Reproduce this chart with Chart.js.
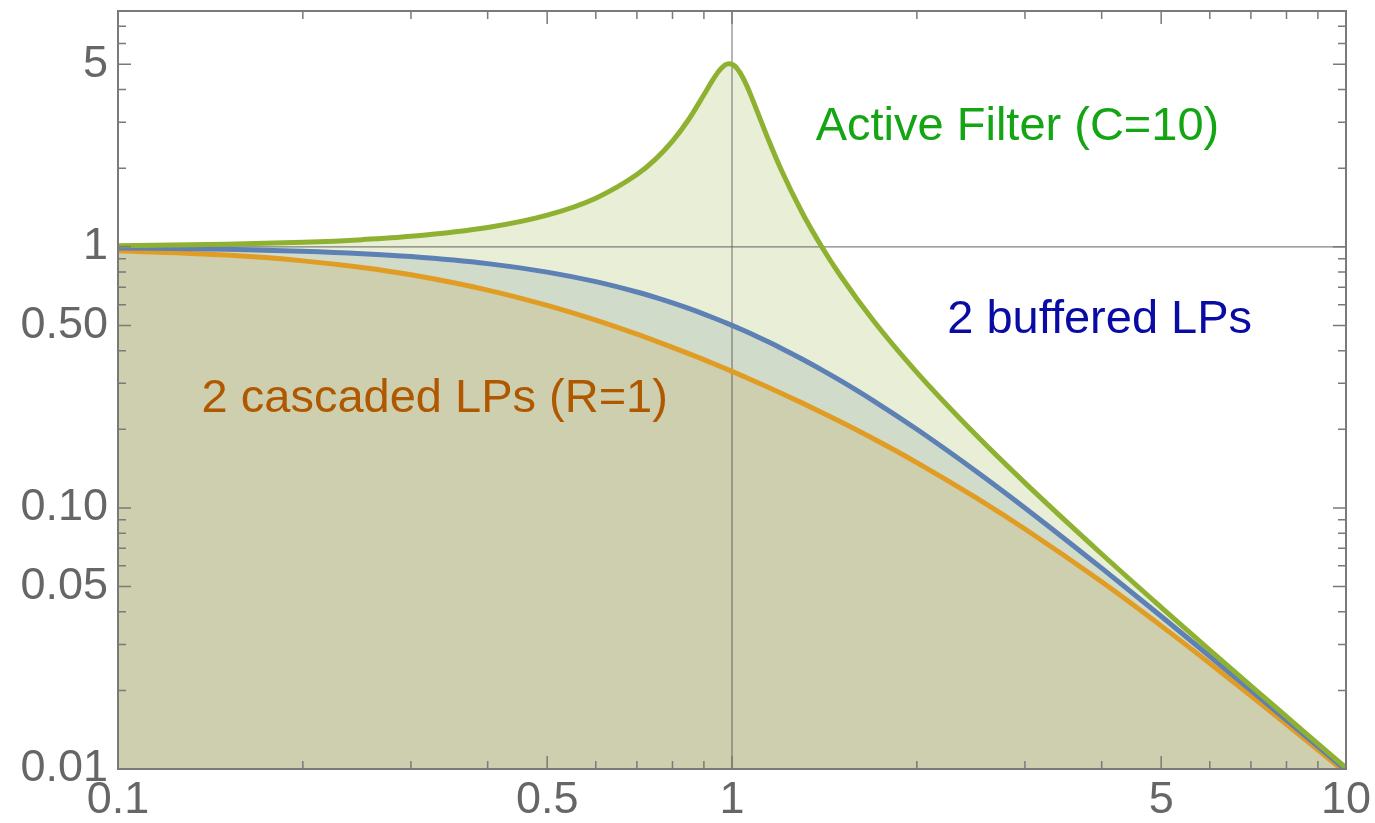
<!DOCTYPE html>
<html>
<head>
<meta charset="utf-8">
<script src="https://cdn.jsdelivr.net/npm/chart.js@4.4.1/dist/chart.umd.min.js"></script>
<style>
  html, body { margin: 0; padding: 0; background: #ffffff; }
  #wrap { width: 1375px; height: 823px; }
</style>
</head>
<body>
<div id="wrap"><canvas id="c" width="1375" height="823"></canvas></div>
<script>
// ---- data ----
const freq = [0.1, 0.15, 0.2, 0.25, 0.3, 0.4, 0.5, 0.6, 0.7, 0.75, 0.8, 0.85, 0.9, 0.93, 0.95, 0.97, 0.98, 0.99, 1, 1.01, 1.02, 1.03, 1.05, 1.07, 1.1, 1.15, 1.2, 1.3, 1.4, 1.5, 1.7, 2, 2.5, 3, 4, 5, 6, 7, 8, 10];
const activeFilter = [1.0099, 1.0225, 1.0408, 1.0652, 1.0965, 1.1851, 1.3216, 1.5357, 1.8908, 2.1622, 2.5384, 3.0728, 3.8208, 4.3500, 4.6825, 4.9309, 5.001, 5.0252, 5.0, 4.9261, 4.8086, 4.6552, 4.2792, 3.8694, 3.2880, 2.5245, 1.9952, 1.3562, 1.0, 0.7779, 0.5207, 0.3304, 0.1896, 0.1247, 0.0666, 0.04163, 0.02855, 0.02082, 0.01587, 0.010099];
const bufferedLPs = [0.990, 0.978, 0.9615, 0.9412, 0.9174, 0.8621, 0.8, 0.7353, 0.6711, 0.64, 0.6098, 0.5806, 0.5525, 0.5362, 0.5256, 0.5152, 0.5101, 0.5050, 0.5, 0.4950, 0.4901, 0.4852, 0.4756, 0.4662, 0.4525, 0.4306, 0.4098, 0.3717, 0.3378, 0.3077, 0.2571, 0.2, 0.1379, 0.1, 0.0588, 0.03846, 0.02703, 0.02, 0.01538, 0.0099];
const cascadedLPs = [0.9667, 0.9293, 0.8833, 0.8329, 0.7813, 0.6827, 0.5963, 0.5235, 0.4627, 0.4363, 0.4121, 0.3899, 0.3695, 0.3580, 0.3507, 0.3436, 0.3401, 0.3367, 0.3333, 0.3300, 0.3268, 0.3236, 0.3173, 0.3112, 0.3024, 0.2886, 0.2757, 0.2525, 0.2321, 0.2141, 0.1839, 0.1491, 0.1092, 0.0830, 0.0521, 0.03533, 0.02541, 0.01909, 0.01483, 0.009667];

const xTickValues = [0.1, 0.5, 1, 5, 10];
const xTickLabels = ['0.1', '0.5', '1', '5', '10'];
const xMinorTicks = [0.2, 0.3, 0.4, 0.6, 0.7, 0.8, 0.9, 2, 3, 4, 6, 7, 8, 9];
const yTickValues = [0.01, 0.05, 0.1, 0.5, 1, 5];
const yTickLabels = ['0.01', '0.05', '0.10', '0.50', '1', '5'];
const yMinorTicks = [0.02, 0.03, 0.04, 0.06, 0.07, 0.08, 0.09, 0.2, 0.3, 0.4, 0.6, 0.7, 0.8, 0.9, 2, 3, 4, 6, 7, 8];
const refLinesX = [1];
const refLinesY = [1];

const seriesNames = ['Active Filter (C=10)', '2 buffered LPs', '2 cascaded LPs (R=1)'];
// label anchor positions in data coordinates (x center, y baseline)
const labelX = [2.917, 3.97, 0.328];
const labelY = [2.565, 0.468, 0.2328];

// ---- styles ----
const lineColors = ['rgb(143,177,50)', 'rgb(94,129,181)', 'rgb(225,156,36)'];
const fillColors = ['rgba(143,177,50,0.2)', 'rgba(94,129,181,0.2)', 'rgba(225,156,36,0.2)'];
const textColors = ['rgb(20,165,20)', 'rgb(10,10,165)', 'rgb(176,88,0)'];
const FRAME = '#7a7a7a';
const TICKTEXT = '#666666';

function pts(arr) { return freq.map((f, i) => ({ x: f, y: arr[i] })); }

const framePlugin = {
  id: 'framePlugin',
  beforeDatasetsDraw(chart) {
    const { ctx, chartArea: a, scales: { x, y } } = chart;
    ctx.save();
    ctx.strokeStyle = 'rgba(90,90,90,0.75)';
    ctx.lineWidth = 1.2;
    refLinesX.forEach(v => {
      const px = x.getPixelForValue(v);
      ctx.beginPath(); ctx.moveTo(px, a.top); ctx.lineTo(px, a.bottom); ctx.stroke();
    });
    refLinesY.forEach(v => {
      const py = y.getPixelForValue(v);
      ctx.beginPath(); ctx.moveTo(a.left, py); ctx.lineTo(a.right, py); ctx.stroke();
    });
    ctx.restore();
  },
  afterDatasetsDraw(chart) {
    const { ctx, chartArea: a, scales: { x, y } } = chart;
    ctx.save();
    // frame
    ctx.strokeStyle = FRAME;
    ctx.lineWidth = 2;
    ctx.strokeRect(a.left, a.top, a.right - a.left, a.bottom - a.top);
    // ticks
    ctx.lineWidth = 1.5;
    const major = 13, minor = 8;
    const xt = (v, len) => {
      const px = x.getPixelForValue(v);
      ctx.beginPath();
      ctx.moveTo(px, a.bottom); ctx.lineTo(px, a.bottom - len);
      ctx.moveTo(px, a.top); ctx.lineTo(px, a.top + len);
      ctx.stroke();
    };
    const yt = (v, len) => {
      const py = y.getPixelForValue(v);
      ctx.beginPath();
      ctx.moveTo(a.left, py); ctx.lineTo(a.left + len, py);
      ctx.moveTo(a.right, py); ctx.lineTo(a.right - len, py);
      ctx.stroke();
    };
    xTickValues.forEach(v => xt(v, major));
    xMinorTicks.forEach(v => xt(v, minor));
    yTickValues.forEach(v => yt(v, major));
    yMinorTicks.forEach(v => yt(v, minor));
    // series labels
    ctx.font = '47px "Liberation Sans", Arial, sans-serif';
    ctx.textAlign = 'center';
    ctx.textBaseline = 'alphabetic';
    seriesNames.forEach((t, i) => {
      ctx.fillStyle = textColors[i];
      ctx.fillText(t, x.getPixelForValue(labelX[i]), y.getPixelForValue(labelY[i]));
    });
    ctx.restore();
  }
};

function zeroPad(s) { s.paddingTop = 0; s.paddingBottom = 0; s.paddingLeft = 0; s.paddingRight = 0; }

new Chart(document.getElementById('c'), {
  type: 'line',
  data: {
    datasets: [
      { label: seriesNames[0], data: pts(activeFilter), borderColor: lineColors[0], backgroundColor: fillColors[0], fill: 'origin' },
      { label: seriesNames[1], data: pts(bufferedLPs), borderColor: lineColors[1], backgroundColor: fillColors[1], fill: 'origin' },
      { label: seriesNames[2], data: pts(cascadedLPs), borderColor: lineColors[2], backgroundColor: fillColors[2], fill: 'origin' }
    ]
  },
  options: {
    responsive: false,
    animation: false,
    devicePixelRatio: 1,
    layout: { padding: { top: 11, right: 29, left: 0, bottom: 0 } },
    elements: {
      point: { radius: 0 },
      line: { borderWidth: 5, cubicInterpolationMode: 'monotone', capBezierPoints: true }
    },
    plugins: {
      legend: { display: false },
      tooltip: { enabled: false },
      filler: { drawTime: 'beforeDatasetsDraw' }
    },
    scales: {
      x: {
        type: 'logarithmic',
        min: 0.1, max: 10,
        grid: { display: false, drawTicks: false },
        border: { display: false },
        afterBuildTicks: s => { s.ticks = xTickValues.map(v => ({ value: v, major: true })); },
        afterFit: s => { s.height = 54; zeroPad(s); },
        ticks: {
          autoSkip: false, maxRotation: 0, minRotation: 0, padding: 5,
          color: TICKTEXT,
          font: { family: '"Liberation Sans", Arial, sans-serif', size: 45 },
          callback: (v, i) => xTickLabels[i]
        }
      },
      y: {
        type: 'logarithmic',
        min: 0.01, max: 8,
        grid: { display: false, drawTicks: false },
        border: { display: false },
        afterBuildTicks: s => { s.ticks = yTickValues.map(v => ({ value: v, major: true })); },
        afterFit: s => { s.width = 118; zeroPad(s); },
        ticks: {
          autoSkip: false, padding: 10,
          color: TICKTEXT,
          font: { family: '"Liberation Sans", Arial, sans-serif', size: 45 },
          callback: (v, i) => yTickLabels[i]
        }
      }
    }
  },
  plugins: [framePlugin]
});
</script>
</body>
</html>
